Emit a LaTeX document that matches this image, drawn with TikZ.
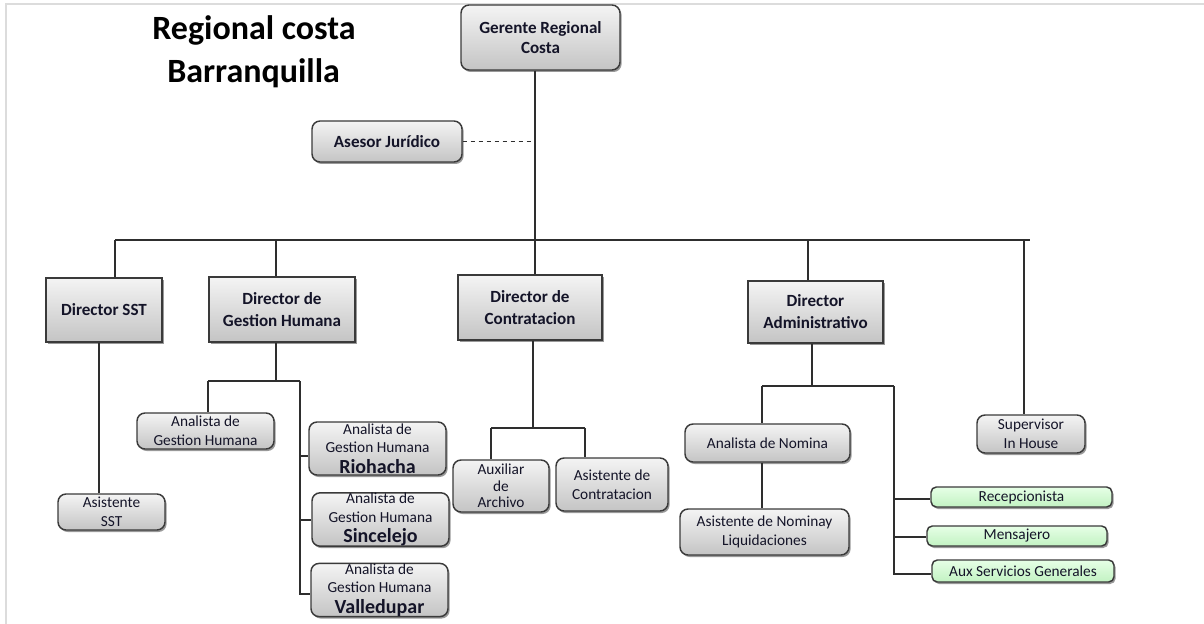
\documentclass[tikz,border=0pt]{standalone}
\usepackage{fontspec}
\setmainfont{Carlito}
\usetikzlibrary{shadows}
\definecolor{bordc}{HTML}{3A3A3A}
\definecolor{linec}{HTML}{2E2E2E}
\definecolor{gtop}{HTML}{F4F4F4}
\definecolor{gbot}{HTML}{C4C4C4}
\definecolor{grtop}{HTML}{E6FFE6}
\definecolor{grbot}{HTML}{C2F2C2}
\definecolor{txt}{HTML}{141428}
\definecolor{pageframe}{HTML}{DCDCDC}
\tikzset{
  base/.style={draw=bordc, line width=1.1pt, top color=gtop, bottom color=gbot,
    drop shadow={shadow xshift=1.2pt, shadow yshift=-1.5pt, fill=black, opacity=0.4},
    align=center, inner sep=0pt, text=txt},
  rbox/.style={base, rounded corners=6pt},
  sbox/.style={base},
  gbox/.style={base, rounded corners=4pt, top color=grtop, bottom color=grbot},
  sw/.style={minimum width=#1},
  sh/.style={minimum height=#1},
  bigt/.style={font=\fontsize{12.8}{16.5}\selectfont\bfseries},
  smallt/.style={font=\fontsize{11.5}{14}\selectfont},
  conn/.style={draw=linec, line width=0.9pt},
  ttl/.style={font=\fontsize{25.5}{30}\selectfont\bfseries, anchor=base west, inner sep=0pt}
}
\newcommand{\cityname}[1]{\\[1.5pt]{\fontsize{15}{16}\selectfont\bfseries #1}}
\begin{document}
\begin{tikzpicture}[x=0.75pt, y=-0.75pt]
\useasboundingbox (0,0) rectangle (1204,624);
% thin page frame
\draw[pageframe, line width=1.2pt] (6,624) -- (6,4) -- (1204,4);

% title
\node[ttl] (t1) at (152,40) {Regional costa};
\node[ttl] (t2) at (167,83) {Barranquilla};

% top levels (sizes in pt = px * 0.75)
\node[rbox, sw=119.25pt, sh=48.75pt, bigt, font=\fontsize{12.8}{14.5}\selectfont\bfseries] (ger) at (540.5,37.5) {Gerente Regional\\Costa};
\node[rbox, sw=112.5pt, sh=30.75pt, bigt] (ase) at (387,141.5) {Asesor Jurídico};

\node[sbox, sw=87pt, sh=48pt, bigt] (dsst) at (104,310) {Director SST};
\node[sbox, sw=109.5pt, sh=48.75pt, bigt] (dgh) at (282,309.5) {Director de\\Gestion Humana};
\node[sbox, sw=108pt, sh=48.75pt, bigt] (dcon) at (530,307.5) {Director de\\Contratacion};
\node[sbox, sw=101.25pt, sh=46.5pt, bigt] (dadm) at (815.5,312) {Director\\Administrativo};
\node[rbox, sw=81pt, sh=28.5pt, smallt] (sup) at (1031,434) {Supervisor\\In House};

% lower levels
\node[rbox, sw=80.25pt, sh=27pt, smallt] (asst) at (111.5,512) {Asistente\\SST};
\node[rbox, sw=102.75pt, sh=27pt, smallt] (agh) at (205.5,431) {Analista de\\Gestion Humana};
\node[rbox, sw=102.75pt, sh=39.75pt, smallt] (rio) at (377.5,448.5) {Analista de\\Gestion Humana\cityname{Riohacha}};
\node[rbox, sw=102.75pt, sh=39.75pt, smallt] (sin) at (380.5,519.5) {Analista de\\Gestion Humana\cityname{Sincelejo}};
\node[rbox, sw=102.75pt, sh=39pt, smallt] (val) at (379.5,590) {Analista de\\Gestion Humana\cityname{Valledupar}};

\node[rbox, sw=72pt, sh=39pt, smallt, font=\fontsize{11.5}{12.4}\selectfont] (aux) at (501,486) {Auxiliar\\de\\Archivo};
\node[rbox, sw=84pt, sh=39.75pt, smallt] (acon) at (612,484.5) {Asistente de\\Contratacion};

\node[rbox, sw=123.75pt, sh=28.5pt, smallt] (anom) at (767.5,443) {Analista de Nomina};
\node[rbox, sw=126.75pt, sh=34.5pt, smallt] (asnom) at (764.5,532) {Asistente de Nominay\\Liquidaciones};

\node[gbox, sw=135.75pt, sh=15pt, smallt] (rec) at (1021.5,497) {Recepcionista};
\node[gbox, sw=135pt, sh=15pt, smallt] (men) at (1017,536) {Mensajero};
\node[gbox, sw=136.5pt, sh=16.5pt, smallt] (asg) at (1023,571) {Aux Servicios Generales};

% main trunk and bus
\coordinate (busL) at (115,240);
\coordinate (busR) at (1030,240);
\coordinate (trunk) at (535,240);
\draw[conn] (ger.south -| trunk) -- (dcon.north -| trunk);
\draw[conn, dashed] (ase.east) -- (ase.east -| trunk);
\draw[conn] (busL) -- (busR);
\draw[conn] (busL) -- (dsst.north -| busL);
\draw[conn] (276,240) -- (dgh.north -| 276,0);
\draw[conn] (808,240) -- (dadm.north -| 808,0);
\draw[conn] (1024,240) -- (sup.north -| 1024,0);

% Director SST
\draw[conn] (dsst.south -| 99,0) -- (asst.north -| 99,0);

% Gestion Humana
\coordinate (ghL) at (208,381);
\coordinate (ghR) at (300,381);
\draw[conn] (dgh.south -| 276,0) -- (276,381);
\draw[conn] (ghL) -- (ghR);
\draw[conn] (ghL) -- (agh.north -| ghL);
\draw[conn] (ghR) -- (300,594) -- (val.west |- 0,594);
\draw[conn] (300,456) -- (rio.west |- 0,456);
\draw[conn] (300,520) -- (sin.west |- 0,520);

% Contratacion
\coordinate (coL) at (491,428);
\coordinate (coR) at (585,428);
\draw[conn] (dcon.south -| 533,0) -- (533,428);
\draw[conn] (coL) -- (coR);
\draw[conn] (coL) -- (aux.north -| coL);
\draw[conn] (coR) -- (acon.north -| coR);

% Administrativo
\coordinate (adL) at (762,386);
\coordinate (adR) at (894,386);
\draw[conn] (dadm.south -| 812,0) -- (812,386);
\draw[conn] (adL) -- (adR);
\draw[conn] (adL) -- (anom.north -| adL);
\draw[conn] (anom.south -| adL) -- (asnom.north -| adL);
\draw[conn] (adR) -- (894,574) -- (asg.west |- 0,574);
\draw[conn] (894,499) -- (rec.west |- 0,499);
\draw[conn] (894,537) -- (men.west |- 0,537);
\end{tikzpicture}
\end{document}
